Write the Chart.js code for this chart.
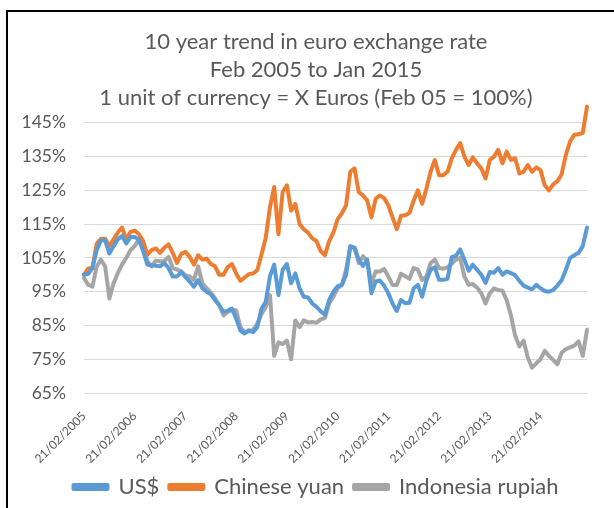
<!DOCTYPE html>
<html>
<head>
<meta charset="utf-8">
<script src="https://cdn.jsdelivr.net/npm/chart.js@4"></script>
<style>
  html, body { margin: 0; padding: 0; background: #fff; overflow: hidden; }
  #frame {
    position: absolute; left: 6px; top: 10px; width: 608px; height: 498px;
    border-left: 2px solid #000; border-top: 2px solid #000; box-sizing: border-box;
  }
  #wrap { position: absolute; left: 0; top: 0; width: 606px; height: 496px; }
</style>
</head>
<body>
<div id="frame"><div id="wrap"><canvas id="myChart"></canvas></div></div>
<script>
// monthly readings, Feb 2005 .. Jan 2015 (index = Feb 05 = 100%)
const tickLabels = ['21/02/2005', '21/02/2006', '21/02/2007', '21/02/2008', '21/02/2009',
                    '21/02/2010', '21/02/2011', '21/02/2012', '21/02/2013', '21/02/2014'];

const usd = [
  100, 100.3, 102, 107.3, 110.2, 110.2, 106.3, 108.5, 110.5, 111.5, 109.3, 111.2,
  111.2, 110.3, 107, 103, 102.8, 102.7, 102.5, 103.5, 102, 99.5, 99.5, 100.8,
  99.3, 98, 96.5, 98.4, 96, 95, 94.2, 92.5, 91, 89, 89.4, 90,
  87, 83.5, 82.6, 83.6, 83, 84.5, 90, 92, 99.6, 103, 94, 101.5,
  103.2, 97.5, 100.4, 96, 93.5, 93.3, 91.5, 90.5, 89.2, 88.2, 92.5, 95,
  96.6, 97, 100, 108.3, 108, 104.5, 102.6, 104.5, 94.5, 98, 98.3, 96.8,
  94.5, 91.5, 89.3, 92.5, 91.6, 91.7, 96, 97, 93.5, 98.3, 101.5, 102.2,
  98.5, 98.5, 98.8, 105.2, 105.6, 107.5, 104.5, 101.2, 103, 101.5, 100, 97.6,
  100.8, 100.6, 102, 100, 101, 100.5, 99.9, 98.2, 96.8, 96.2, 95.7, 97,
  96, 95.2, 95, 95.5, 96.8, 98.4, 101.5, 105, 105.8, 106.5, 108.5, 114
];

const yuan = [
  100, 101.9, 102, 109.2, 110.7, 110.7, 108.5, 110.5, 112.5, 114, 110.5, 112.7,
  113.1, 112, 110, 106, 107.3, 107.8, 106.5, 108, 109, 106.5, 103.5, 106.2,
  106.8, 105.3, 103, 105.8, 104.5, 104.8, 103.2, 102.5, 100, 100, 102.3, 103.2,
  100.4, 98.2, 99.2, 100.2, 100.4, 101.4, 106, 111, 120, 126, 112, 124.5,
  126.5, 119, 121, 115, 113.5, 112.5, 110.8, 110, 107, 105.8, 110, 112.5,
  116.5, 118.2, 120.5, 130.5, 131.5, 124.5, 123.5, 122, 117, 122.5, 123.5, 122.7,
  120.6, 117, 113.5, 117.5, 117.6, 118.3, 122, 125, 121, 125.5, 130.5, 134,
  129.5, 129.5, 130.5, 134.5, 137, 139, 135, 132.5, 134.8, 133, 131.5, 128.5,
  134, 135, 137, 133, 136.5, 134, 134.5, 130, 130.5, 132.5, 130.5, 131.8,
  131, 126.5, 125, 126.8, 127.7, 129.8, 135.5, 139.5, 141.5, 141.6, 142, 149.8
];

const rupiah = [
  99, 97, 96.5, 102.4, 104.5, 102.5, 93, 97.5, 100.5, 103, 105, 107.3,
  108.5, 110.5, 109, 104, 102.5, 104.2, 104, 104.1, 105.3, 102, 101.5, 101,
  99.8, 99.5, 98.5, 102.5, 97.5, 96, 94.8, 93, 91, 88, 89, 89.5,
  89.5, 84.5, 83, 83.2, 83.7, 85.5, 88.4, 90.5, 94, 76, 80, 79.5,
  80.5, 75, 86.5, 84.5, 86.5, 85.9, 86, 85.8, 86.8, 87.2, 91.5, 93.5,
  96, 97, 101.5, 108.5, 108, 103.5, 105.5, 104, 97.5, 101, 101, 101.7,
  99.5, 97, 97, 100.3, 99.6, 98.8, 102, 101.5, 98.5, 99.5, 103.5, 104.5,
  102, 101.8, 102.2, 103.3, 104.5, 105, 99.5, 97, 97.3, 96.2, 94.5, 91.5,
  94.5, 96, 95.5, 95.3, 92.5, 88, 82, 78.8, 80.5, 75.5, 72.5, 73.8,
  75, 77.5, 76, 74.8, 73.5, 76.9, 78, 78.5, 79, 80.3, 76, 83.7
];

// month categories Feb 2005 .. Jan 2015
const months = [];
for (let i = 0; i < usd.length; i++) {
  const m = (1 + i) % 12;
  const y = 2005 + Math.floor((1 + i) / 12);
  months.push(y + '-' + String(m + 1).padStart(2, '0'));
}

const grey = '#595959';
const ctx = document.getElementById('myChart').getContext('2d');
new Chart(ctx, {
  type: 'line',
  data: {
    labels: months,
    datasets: [
      { label: 'US$', data: usd, borderColor: '#5B9BD5', backgroundColor: '#5B9BD5' },
      { label: 'Chinese yuan', data: yuan, borderColor: '#ED7D31', backgroundColor: '#ED7D31' },
      { label: 'Indonesia rupiah', data: rupiah, borderColor: '#A5A5A5', backgroundColor: '#A5A5A5' }
    ]
  },
  options: {
    responsive: true,
    maintainAspectRatio: false,
    animation: false,
    layout: { padding: { left: 10, right: 0, top: 16, bottom: 0 } },
    elements: {
      line: { borderWidth: 4, tension: 0, borderJoinStyle: 'round', borderCapStyle: 'round' },
      point: { radius: 0 }
    },
    datasets: { line: { clip: false } },
    plugins: {
      title: {
        display: true,
        text: ['10 year trend in euro exchange rate', 'Feb 2005 to Jan 2015', '1 unit of currency = X Euros (Feb 05 = 100%)'],
        color: grey,
        font: { family: 'Lato', size: 22, weight: 'normal', lineHeight: 1.27 },
        padding: { top: 0, bottom: 11 }
      },
      legend: {
        position: 'bottom',
        labels: {
          color: grey,
          font: { family: 'Lato', size: 22 },
          boxWidth: 34,
          boxHeight: 4,
          padding: 10
        }
      },
      tooltip: { enabled: false }
    },
    scales: {
      x: {
        grid: { display: false },
        border: { display: true, color: '#d9d9d9' },
        ticks: {
          autoSkip: false,
          minRotation: 45,
          maxRotation: 45,
          padding: 8,
          color: grey,
          font: { family: 'Lato', size: 12 },
          callback: (v, i) => (i % 12 === 0 ? tickLabels[i / 12] : null)
        },
        afterFit: s => { s.paddingLeft = 0; s.paddingRight = 0; s.height = 73; }
      },
      y: {
        min: 65,
        max: 145,
        grid: { color: '#d9d9d9', lineWidth: 1, drawTicks: false },
        border: { display: false },
        ticks: {
          stepSize: 10,
          color: grey,
          padding: 18,
          font: { family: 'Lato', size: 17.5 },
          callback: v => v + '%'
        },
        afterFit: s => { s.width = 66; }
      },
      // empty right-hand gutter so title and legend centre like the original
      gutter: {
        position: 'right',
        grid: { display: false },
        border: { display: false },
        ticks: { display: false },
        afterFit: s => { s.width = 27; }
      }
    }
  }
});
</script>
</body>
</html>
